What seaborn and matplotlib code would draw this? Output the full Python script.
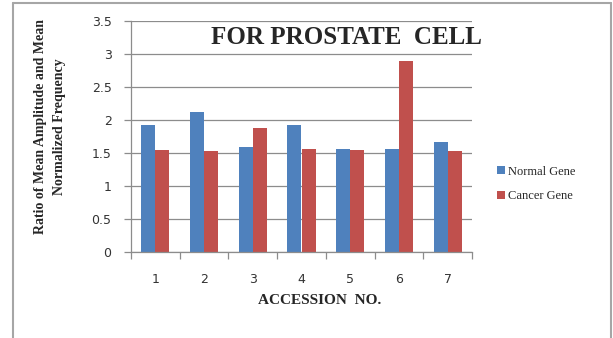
import matplotlib
matplotlib.use("Agg")
import matplotlib.pyplot as plt
import seaborn as sns
import pandas as pd
import numpy as np
from matplotlib.lines import Line2D
from matplotlib.patches import Patch

accession = ["1", "2", "3", "4", "5", "6", "7"]
normal_gene = [1.92, 2.12, 1.59, 1.92, 1.56, 1.56, 1.66]
cancer_gene = [1.55, 1.53, 1.87, 1.56, 1.55, 2.89, 1.53]
series_names = ["Normal Gene", "Cancer Gene"]
colors = ["#4F81BD", "#C0504D"]

df = pd.DataFrame({
    "Accession": accession * 2,
    "Value": normal_gene + cancer_gene,
    "Series": [series_names[0]] * len(accession) + [series_names[1]] * len(accession),
})

sns.set_style("white")
fig = plt.figure(figsize=(6.13, 3.38), dpi=100)
ax = fig.add_axes([131/613, 1-252/338, (472-131)/613, (252-20.7)/338])

sns.barplot(data=df, x="Accession", y="Value", hue="Series", palette=colors,
            width=0.575, ax=ax, legend=False, saturation=1, linewidth=0)

ax.set_ylim(0, 3.5)
ax.set_xlim(-0.5, 6.5)
ax.set_yticks(np.arange(0, 3.51, 0.5))
ax.set_yticklabels(["0", "0.5", "1", "1.5", "2", "2.5", "3", "3.5"])
ax.yaxis.grid(True, color="#8c8c8c", linewidth=0.9)
ax.set_axisbelow(True)
for s in ["top", "right"]:
    ax.spines[s].set_visible(False)
for s in ["left", "bottom"]:
    ax.spines[s].set_color("#8c8c8c")
    ax.spines[s].set_linewidth(0.9)

ax.set_xticks(np.arange(-0.5, 7, 1), minor=True)
ax.tick_params(axis="x", which="major", length=0, pad=15, labelsize=9, colors="#333333")
ax.tick_params(axis="x", which="minor", length=5, color="#8c8c8c", width=0.9, bottom=True)
ax.tick_params(axis="y", length=5, color="#8c8c8c", width=0.9, pad=9, labelsize=9,
               labelcolor="#333333", left=True)
ax.set_xlabel("")
ax.set_ylabel("")

fig.text(346/613, 1-38/338, "FOR PROSTATE  CELL", ha="center", va="center",
         family="Liberation Serif", weight="bold", fontsize=18,
         bbox=dict(facecolor="white", edgecolor="none", pad=1))
fig.text(320/613, 1-300/338, "ACCESSION  NO.", ha="center", va="center",
         family="Liberation Serif", weight="bold", fontsize=11)
fig.text(50/613, 1-127/338, "Ratio of Mean Amplitude and Mean\nNormalized Frequency",
         ha="center", va="center", rotation=90, family="Liberation Serif",
         weight="bold", fontsize=10, linespacing=1.6)

handles = [Patch(facecolor=c, edgecolor="none") for c in colors]
leg = fig.legend(handles, series_names, loc="center left",
                 bbox_to_anchor=(486/613, 1-184/338), frameon=False,
                 prop={"family": "Liberation Serif", "size": 9},
                 handlelength=0.6, handleheight=0.6, handletextpad=0.3,
                 labelspacing=1.0)

# outer chart border
border_color = "#a6a6a6"
fig.add_artist(Line2D([13/613, 13/613], [0, 1-3/338], transform=fig.transFigure,
                      color=border_color, linewidth=1.5))
fig.add_artist(Line2D([13/613, 611/613], [1-3/338, 1-3/338], transform=fig.transFigure,
                      color=border_color, linewidth=1.5))
fig.add_artist(Line2D([611/613, 611/613], [0, 1-3/338], transform=fig.transFigure,
                      color=border_color, linewidth=1.5))

fig.savefig("out.png", dpi=100)
